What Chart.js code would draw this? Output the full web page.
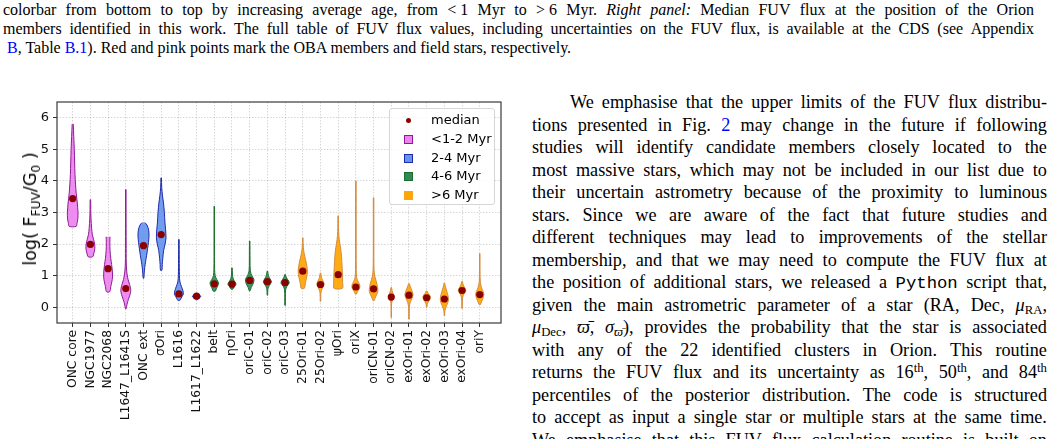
<!DOCTYPE html>
<html><head><meta charset="utf-8">
<script src="https://cdn.jsdelivr.net/npm/chart.js@4.4.0/dist/chart.umd.min.js"></script>
<style>
html,body{margin:0;padding:0;background:#fff;}
body{width:1057px;height:439px;overflow:hidden;position:relative;}
.ln{position:absolute;white-space:nowrap;font-family:"Liberation Serif","Times New Roman",serif;color:#000;}
.jl{display:flex;flex-wrap:nowrap;justify-content:space-between;}
.jl span.w{white-space:nowrap;flex:0 0 auto;}
.ln a{color:#0000ff;text-decoration:none;}
.ln sub,.ln sup{font-size:70%;line-height:0;}
.ln sub{vertical-align:-0.25em;}
.ln sup{vertical-align:0.45em;}
.ln tt{font-family:"Liberation Mono","DejaVu Sans Mono",monospace;font-size:95%;}
#chartBox{position:absolute;left:0;top:90px;width:530px;height:349px;}
#ytitle{position:absolute;left:30px;top:209px;transform:translate(-50%,-50%) rotate(-90deg);font-family:"DejaVu Sans",sans-serif;font-size:17.5px;white-space:nowrap;color:#000;}
#ytitle sub{font-size:70%;vertical-align:-0.3em;line-height:0;}
#legend{position:absolute;left:389px;top:108px;width:106px;height:97px;box-sizing:border-box;border:1px solid #d6d6d6;border-radius:3px;background:rgba(255,255,255,0.85);font-family:"DejaVu Sans",sans-serif;font-size:13px;color:#000;}
.li{position:absolute;left:0;height:18px;line-height:18px;}
.li .mk{position:absolute;box-sizing:border-box;}
.li .tx{position:absolute;left:41px;white-space:nowrap;}
</style></head>
<body>
<div id="text"></div>
<div id="chartBox"><canvas id="c" width="530" height="349"></canvas></div>
<div id="ytitle">log( F<sub>FUV</sub>/G<sub>0</sub> )</div>
<div id="legend"></div>
<script>
// ---------------- data ----------------
const categories = ['ONC core','NGC1977','NGC2068','L1647_L1641S','ONC ext','σOri','L1616','L1617_L1622','belt','ηOri','oriC-01','oriC-02','oriC-03','25Ori-01','25Ori-02','ψOri','oriX','oriCN-01','oriCN-02','exOri-01','exOri-02','exOri-03','exOri-04','oriY'];
const ageGroup = [0,0,0,0,1,1,1,1,2,2,2,2,2,3,3,3,3,3,3,3,3,3,3,3];
const medians = [3.44,1.99,1.22,0.59,1.95,2.30,0.42,0.35,0.74,0.73,0.85,0.81,0.78,1.14,0.72,1.03,0.64,0.58,0.32,0.38,0.30,0.26,0.53,0.40];
const yTicks = [0,1,2,3,4,5,6];
const groupLabels = ['<1-2 Myr','2-4 Myr','4-6 Myr','>6 Myr'];
const medianLabel = 'median';
// violin profiles: [log flux, half-width in category units], top to bottom
const vONCcore = [[5.80,0.03],[5.40,0.06],[5.00,0.09],[4.60,0.11],[4.20,0.13],[3.90,0.16],[3.60,0.20],[3.30,0.26],[3.00,0.30],[2.80,0.29],[2.65,0.24],[2.56,0.20]];
const vNGC1977 = [[3.41,0.015],[3.10,0.02],[2.80,0.035],[2.50,0.07],[2.30,0.11],[2.15,0.18],[2.00,0.24],[1.85,0.25],[1.72,0.20],[1.60,0.13]];
const vNGC2068 = [[2.23,0.11],[2.05,0.10],[1.80,0.11],[1.55,0.15],[1.35,0.20],[1.15,0.24],[0.95,0.25],[0.80,0.21],[0.65,0.15],[0.49,0.09]];
const vL1647 = [[3.73,0.015],[3.00,0.015],[2.00,0.02],[1.40,0.025],[1.15,0.05],[0.95,0.10],[0.80,0.17],[0.65,0.25],[0.52,0.28],[0.40,0.24],[0.25,0.15],[0.10,0.07],[-0.05,0.02]];
const vONCext = [[2.68,0.08],[2.60,0.20],[2.45,0.29],[2.25,0.31],[2.05,0.28],[1.85,0.23],[1.65,0.18],[1.45,0.12],[1.25,0.07],[1.05,0.035],[0.92,0.02]];
const vSigOri = [[4.10,0.015],[3.80,0.03],[3.55,0.07],[3.30,0.13],[3.00,0.18],[2.70,0.21],[2.45,0.25],[2.20,0.27],[2.00,0.22],[1.80,0.14],[1.55,0.09],[1.35,0.06],[1.17,0.04]];
const vL1616 = [[2.15,0.015],[1.50,0.02],[1.00,0.03],[0.80,0.06],[0.65,0.15],[0.52,0.23],[0.42,0.25],[0.33,0.17],[0.26,0.10],[0.22,0.06]];
const vL1617 = [[0.42,0.04],[0.39,0.14],[0.35,0.24],[0.31,0.20],[0.27,0.10],[0.24,0.04]];
const vBelt = [[3.20,0.015],[2.00,0.015],[1.20,0.02],[1.00,0.05],[0.88,0.14],[0.77,0.24],[0.68,0.20],[0.58,0.11],[0.51,0.06]];
const vEtaOri = [[1.25,0.015],[1.05,0.025],[0.90,0.07],[0.80,0.17],[0.73,0.23],[0.65,0.13],[0.57,0.04]];
const vOriC01 = [[2.10,0.015],[1.50,0.02],[1.15,0.035],[1.00,0.12],[0.88,0.24],[0.75,0.20],[0.63,0.09],[0.52,0.025]];
const vOriC02 = [[1.15,0.015],[1.00,0.06],[0.88,0.17],[0.80,0.23],[0.70,0.12],[0.60,0.04],[0.50,0.02],[0.38,0.015]];
const vOriC03 = [[1.04,0.015],[0.93,0.08],[0.83,0.20],[0.76,0.23],[0.66,0.10],[0.55,0.03],[0.30,0.015],[0.06,0.015]];
const v25Ori01 = [[2.20,0.015],[1.90,0.03],[1.70,0.08],[1.50,0.16],[1.30,0.23],[1.12,0.26],[0.95,0.22],[0.78,0.15],[0.60,0.09]];
const v25Ori02 = [[1.09,0.015],[0.95,0.05],[0.82,0.15],[0.72,0.21],[0.62,0.12],[0.50,0.04],[0.35,0.015],[0.19,0.015]];
const vPsiOri = [[2.90,0.015],[2.40,0.025],[2.15,0.06],[1.90,0.13],[1.60,0.19],[1.30,0.22],[1.05,0.24],[0.80,0.25],[0.60,0.24]];
const vOriX = [[4.00,0.015],[2.50,0.015],[1.20,0.02],[0.95,0.04],[0.82,0.12],[0.70,0.22],[0.60,0.21],[0.50,0.10],[0.42,0.03]];
const vOriCN01 = [[3.47,0.015],[2.00,0.015],[1.20,0.025],[0.98,0.07],[0.80,0.16],[0.62,0.23],[0.50,0.24],[0.38,0.16],[0.28,0.08],[0.22,0.05]];
const vOriCN02 = [[0.63,0.015],[0.52,0.05],[0.42,0.11],[0.33,0.15],[0.25,0.07],[0.12,0.02],[-0.10,0.012],[-0.33,0.012]];
const vExOri01 = [[0.75,0.015],[0.65,0.08],[0.52,0.17],[0.40,0.23],[0.28,0.17],[0.15,0.07],[0.00,0.02],[-0.38,0.012]];
const vExOri02 = [[0.52,0.015],[0.44,0.09],[0.34,0.21],[0.27,0.20],[0.17,0.09],[0.08,0.03],[0.00,0.015]];
const vExOri03 = [[0.77,0.015],[0.65,0.06],[0.50,0.14],[0.35,0.21],[0.22,0.23],[0.08,0.15],[-0.05,0.06],[-0.15,0.02],[-0.27,0.012]];
const vExOri04 = [[0.82,0.015],[0.70,0.07],[0.60,0.17],[0.52,0.21],[0.42,0.10],[0.30,0.03],[0.10,0.012],[-0.04,0.012]];
const vOriY = [[1.70,0.015],[1.20,0.015],[0.80,0.03],[0.62,0.10],[0.50,0.19],[0.40,0.23],[0.30,0.19],[0.20,0.12],[0.08,0.03]];
const profiles = [vONCcore,vNGC1977,vNGC2068,vL1647,vONCext,vSigOri,vL1616,vL1617,vBelt,vEtaOri,vOriC01,vOriC02,vOriC03,v25Ori01,v25Ori02,vPsiOri,vOriX,vOriCN01,vOriCN02,vExOri01,vExOri02,vExOri03,vExOri04,vOriY];

// ---------------- styles ----------------
const fillCols = ['rgba(238,130,238,0.92)','rgba(100,149,237,0.92)','rgba(46,139,87,0.92)','rgba(255,165,0,0.92)'];
const edgeCols = ['#8e1a95','#1f2aa8','#1b6e2e','#d38a3e'];
const legFill = ['#ee82ee','#6495ed','#2e8b57','#ffa500'];
const legEdge = ['#8e1a95','#1f2aa8','#1b6e2e','#f5a623'];
const medianColor = '#8b0000';

// ---------------- page text ----------------
const capLines = [
 'colorbar from bottom to top by increasing average age, from &lt;&nbsp;1 Myr to &gt;&nbsp;6 Myr. <i>Right</i> <i>panel:</i> Median FUV flux at the position of the Orion',
 'members identified in this work. The full table of FUV flux values, including uncertainties on the FUV flux, is available at the CDS (see Appendix',
 '<a>B</a>, Table <a>B.1</a>). Red and pink points mark the OBA members and field stars, respectively.'
];
const bodyLines = [
 'We emphasise that the upper limits of the FUV flux distribu-',
 'tions presented in Fig. <a>2</a> may change in the future if following',
 'studies will identify candidate members closely located to the',
 'most massive stars, which may not be included in our list due to',
 'their uncertain astrometry because of the proximity to luminous',
 'stars. Since we are aware of the fact that future studies and',
 'different techniques may lead to improvements of the stellar',
 'membership, and that we may need to compute the FUV flux at',
 'the position of additional stars, we released a <tt>Python</tt> script that,',
 'given the main astrometric parameter of a star (RA, Dec, <i>μ</i><sub>RA</sub>,',
 '<i>μ</i><sub>Dec</sub>, <i>ϖ̄</i>, <i>σ</i><sub><i>ϖ̄</i></sub>), provides the probability that the star is associated',
 'with any of the 22 identified clusters in Orion. This routine',
 'returns the FUV flux and its uncertainty as 16<sup>th</sup>, 50<sup>th</sup>, and 84<sup>th</sup>',
 'percentiles of the posterior distribution. The code is structured',
 'to accept as input a single star or multiple stars at the same time.',
 'We emphasise that this FUV flux calculation routine is built on'
];
function makeLine(html, left, width, base, fs, justify){
  const d = document.createElement('div'); d.className = 'ln' + (justify ? ' jl' : '');
  if (justify) { d.innerHTML = html.split(' ').map(w=>'<span class="w">'+w+'</span>').join(''); d.style.width = width+'px'; }
  else d.innerHTML = html;
  d.style.fontSize = fs+'px'; d.style.lineHeight = fs+'px';
  d.style.top = (base - 0.8375*fs)+'px'; d.style.left = left+'px';
  document.getElementById('text').appendChild(d);
  if (justify) {
    // keep every line on a single row: shrink the font slightly if the words need more room than the column
    let f = fs, guard = 0;
    const need = () => Array.from(d.children).reduce((s,c)=>s+c.getBoundingClientRect().width,0) + (d.children.length-1)*0.17*f;
    while (need() > width && guard++ < 60) { f -= 0.1; d.style.fontSize = f+'px'; }
  }
}
(function(){
  const capFs = 16, bodyFs = 18.2;
  capLines.forEach((h,k)=> makeLine(h, k===2?7:3, 1031, 15.7+18.8*k, capFs, k<2));
  bodyLines.forEach((h,k)=>{ const left = k===0?570:532; makeLine(h, left, 1047-left, 108.5+22.5*k, bodyFs, true); });
  // legend
  const leg = document.getElementById('legend');
  const items = [{t:medianLabel, m:'dot'}].concat(groupLabels.map((t,i)=>({t, m:i})));
  items.forEach((it,k)=>{
    const row = document.createElement('div'); row.className='li';
    row.style.top = (2 + 18.8*k)+'px'; row.style.width='100%';
    const mk = document.createElement('div'); mk.className='mk';
    if(it.m==='dot'){ mk.style.cssText='left:16px;top:7px;width:5px;height:5px;border-radius:50%;background:'+medianColor+';'; }
    else { mk.style.cssText='left:14px;top:5px;width:9px;height:9px;background:'+legFill[it.m]+';border:1px solid '+legEdge[it.m]+';'; }
    const tx = document.createElement('div'); tx.className='tx'; tx.textContent=it.t;
    row.appendChild(mk); row.appendChild(tx); leg.appendChild(row);
  });
})();

// ---------------- chart ----------------
const datasets = profiles.map((p,i)=>{
  const right = p.map(([v,w])=>({x:i+w, y:v}));
  const left = p.slice().reverse().map(([v,w])=>({x:i-w, y:v}));
  const g = ageGroup[i];
  return {type:'line', data:right.concat(left), backgroundColor:fillCols[g], borderColor:edgeCols[g], borderWidth:1, fill:'shape', pointRadius:0, tension:0.3, order:2};
});
datasets.push({type:'scatter', data:medians.map((m,i)=>({x:i,y:m})), backgroundColor:medianColor, borderWidth:0, pointRadius:3.6, order:-1});

const framePlugin = {id:'frame', afterDraw(chart){
  const {ctx, chartArea:a} = chart; ctx.save(); ctx.strokeStyle='#3a3a3a'; ctx.lineWidth=1.2;
  ctx.strokeRect(a.left, a.top, a.right-a.left, a.bottom-a.top); ctx.restore();
}};

const tickFont = {family:'DejaVu Sans', size:12.3};
new Chart(document.getElementById('c'), {
  data:{datasets},
  options:{
    responsive:false, animation:false, devicePixelRatio:1,
    layout:{padding:{top:12,right:29,left:0,bottom:0}},
    plugins:{legend:{display:false}, tooltip:{enabled:false}},
    scales:{
      x:{type:'linear', min:-0.887, max:24.2,
        afterBuildTicks:s=>{ s.ticks = categories.map((c,i)=>({value:i})); },
        afterFit:s=>{ s.height = 116; },
        ticks:{autoSkip:false, maxRotation:90, minRotation:90, font:tickFont, color:'#111', padding:3, callback:(v)=>categories[v]},
        grid:{color:'rgba(0,0,0,0.2)', lineWidth:0.8, tickColor:'#333', tickLength:4, tickWidth:1},
        border:{display:false, dash:[1.5,1.5]}
      },
      y:{type:'linear', min:-0.5, max:6.5,
        afterBuildTicks:s=>{ s.ticks = yTicks.map(v=>({value:v})); },
        afterFit:s=>{ s.width = 57; },
        ticks:{font:{family:'DejaVu Sans', size:13}, color:'#111', padding:4, callback:(v)=>String(v)},
        grid:{color:'rgba(0,0,0,0.2)', lineWidth:0.8, tickColor:'#333', tickLength:4, tickWidth:1},
        border:{display:false, dash:[1.5,1.5]}
      }
    }
  },
  plugins:[framePlugin]
});
</script>
</body></html>
